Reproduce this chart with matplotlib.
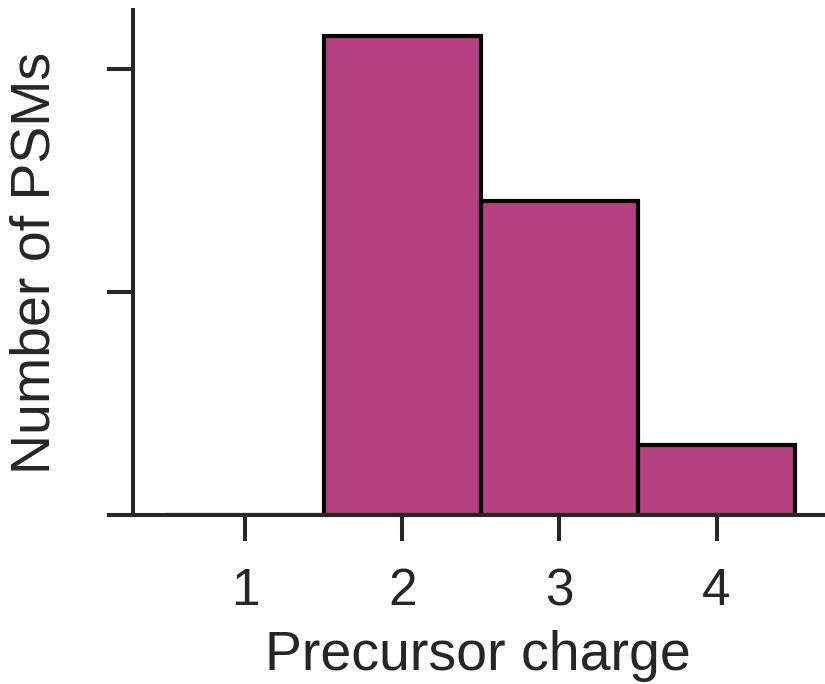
import matplotlib
matplotlib.use('Agg')
import matplotlib.pyplot as plt

# Data
charges = [1, 2, 3, 4]
psm_counts = [0, 2148, 1408, 314]
y_ticks = [0, 1000, 2000]

bar_color = '#b54081'
ink = '#262626'

plt.rcParams['font.family'] = ['Liberation Sans', 'DejaVu Sans']

fig = plt.figure(figsize=(8.25, 6.84), dpi=100)
ax = fig.add_axes([0.161, 0.247, 0.837, 0.738])

ax.bar(charges, psm_counts, width=1.0, color=bar_color,
       edgecolor='black', linewidth=3.0)

ax.set_xlim(0.285, 4.68)
ax.set_ylim(0, 2265)
ax.set_xticks(charges)
ax.set_yticks(y_ticks)
ax.set_yticklabels([])

for side in ['top', 'right']:
    ax.spines[side].set_visible(False)
for side in ['left', 'bottom']:
    ax.spines[side].set_linewidth(2.9)
    ax.spines[side].set_color(ink)

ax.tick_params(axis='both', length=18.7, width=2.9, color=ink,
               labelcolor=ink, labelsize=37)
ax.tick_params(axis='x', pad=19)

ax.set_xlabel('Precursor charge', fontsize=40, color=ink, labelpad=10)
ax.set_ylabel('Number of PSMs', fontsize=40, color=ink, labelpad=29)

fig.savefig('out.png', dpi=100)
